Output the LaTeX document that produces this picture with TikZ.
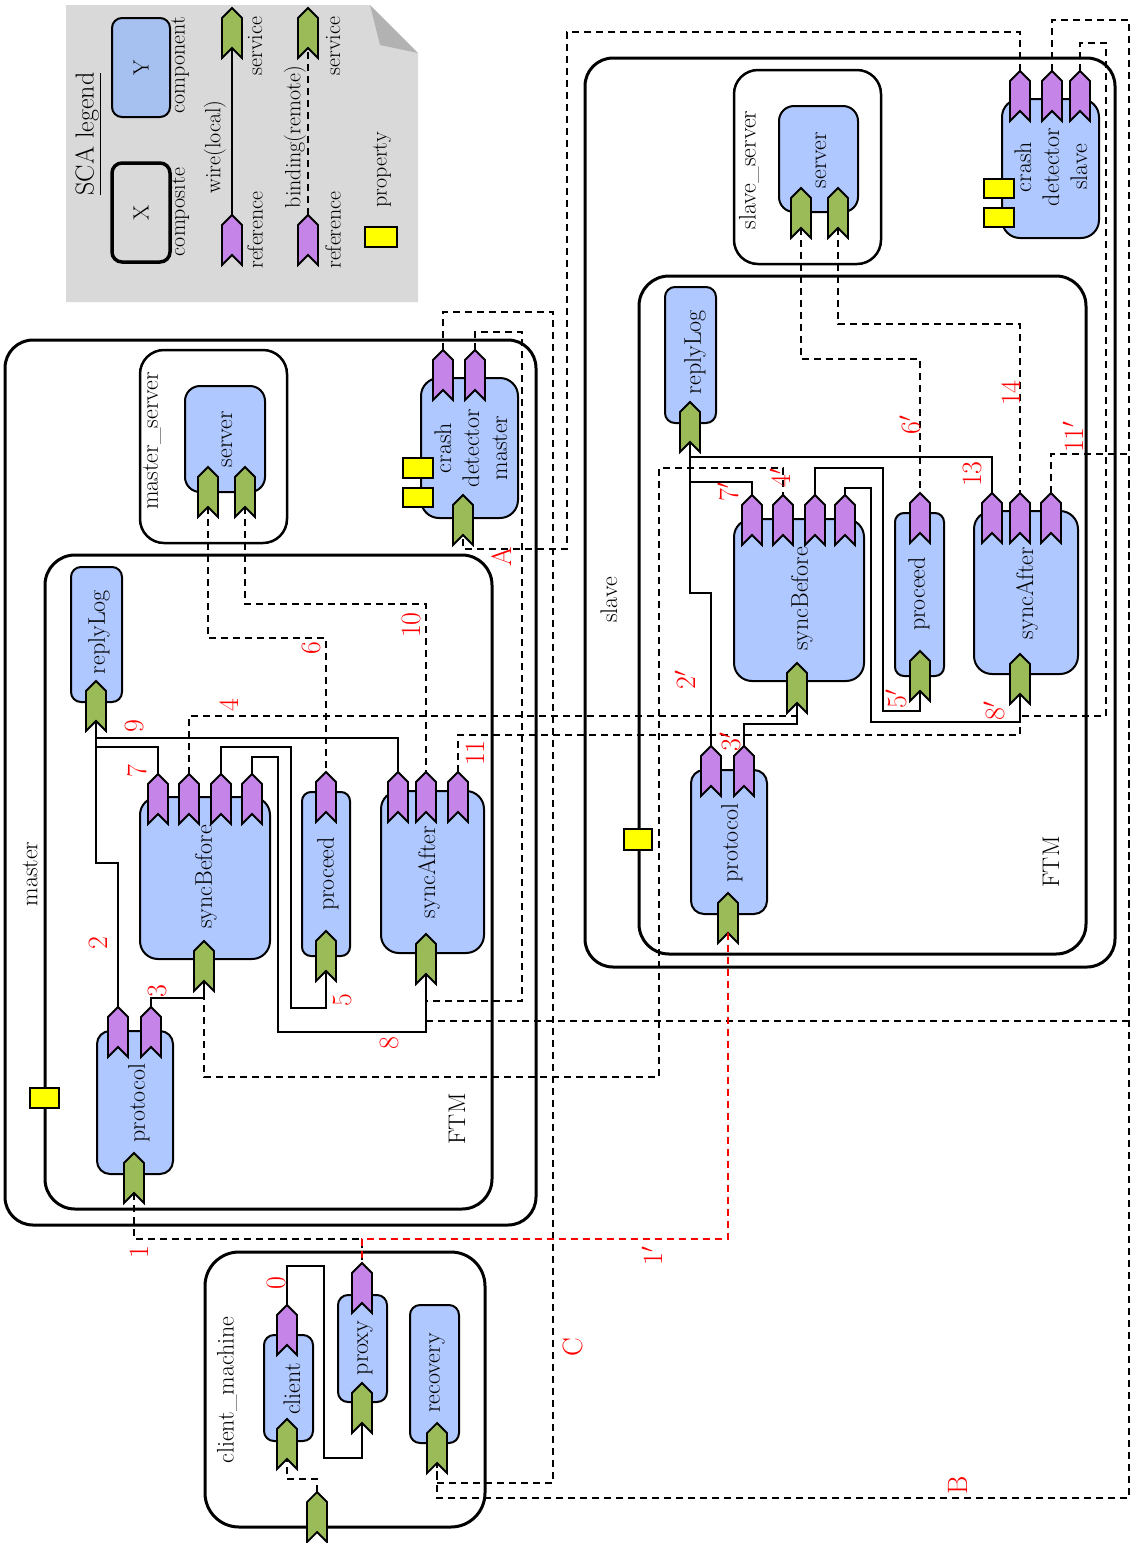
\documentclass[tikz,border=0pt]{standalone}
\definecolor{compblue}{RGB}{175,200,255}
\definecolor{legblue}{RGB}{166,192,240}
\definecolor{refpurple}{RGB}{196,132,232}
\definecolor{svcgreen}{RGB}{155,187,89}
\definecolor{leggray}{RGB}{217,217,217}
\definecolor{foldgray}{RGB}{178,178,178}
\definecolor{propyellow}{RGB}{255,255,0}
\tikzset{
  composite/.style={draw, line width=3pt, rounded corners=28pt, inner sep=0pt, outer sep=0pt},
  comp/.style={draw, line width=2pt, fill=compblue, rounded corners=12pt, inner sep=0pt, outer sep=0pt},
  prop/.style={draw, line width=1.8pt, fill=propyellow, inner sep=0pt, outer sep=0pt},
  wire/.style={line width=1.8pt},
  bind/.style={line width=1.8pt, dash pattern=on 7pt off 5pt},
  redbind/.style={bind, draw=red},
  lab/.style={rotate=90, font=\fontsize{24}{28}\selectfont, inner sep=0pt},
  num/.style={rotate=90, text=red, font=\fontsize{28}{30}\selectfont, inner sep=0pt},
  leg/.style={rotate=90, font=\fontsize{22}{26}\selectfont, inner sep=0pt},
  port/.style={line width=1.8pt, line join=miter},
  refport/.pic={\draw[port,fill=refpurple] (0,0) -- (10,10) -- (10,50) -- (0,40) -- (-10,50) -- (-10,10) -- cycle;
    \coordinate (-t) at (0,0); \coordinate (-n) at (0,40);},
  svcport/.pic={\draw[port,fill=svcgreen] (0,0) -- (10,10) -- (10,50) -- (0,40) -- (-10,50) -- (-10,10) -- cycle;
    \coordinate (-t) at (0,0); \coordinate (-n) at (0,40);},
}
\newcommand\boxat[6]{\node[#1,minimum width={(#5)-(#3)},minimum height={(#6)-(#4)}] (#2) at ({((#3)+(#5))/2},{((#4)+(#6))/2}) {};}
\begin{document}
\begin{tikzpicture}[x=1pt,y=-1pt]
\useasboundingbox (0,0) rectangle (1134,1543);
% ---------------- legend
\fill[leggray] (66,5) -- (370,5) -- (418,53) -- (418,302) -- (66,302) -- cycle;
\fill[foldgray] (370,5) -- (418,53) -- (380,45) -- cycle;
\boxat{draw,line width=3.5pt,rounded corners=10pt,inner sep=0pt}{legx}{112}{163}{170}{262}
\boxat{comp,fill=legblue,rounded corners=10pt}{legy}{112}{18}{170}{117}
\node[leg] (legxt) at (legx) {X};
\node[leg] (legyt) at (legy) {Y};
\node[leg,font=\fontsize{26}{30}\selectfont] (legtitle) at (88,134) {\underline{SCA legend}};
\node[leg] (legcomposite) at (180,212) {composite};
\node[leg] (legcomponent) at (180,65) {component};
\pic (lgr1) at (232,215) {refport};
\pic (lgs1) at (232,8) {svcport};
\draw[wire] (lgr1-t) -- (lgs1-n);
\pic (lgr2) at (308,215) {refport};
\pic (lgs2) at (308,8) {svcport};
\draw[bind] (lgr2-t) -- (lgs2-n);
\node[leg] (legwire) at (215,147) {wire(local)};
\node[leg] (legbind) at (295,137) {binding(remote)};
\node[leg] (legref1) at (255,230) {reference};
\node[leg] (legsvc1) at (255,46) {service};
\node[leg] (legref2) at (333,230) {reference};
\node[leg] (legsvc2) at (333,46) {service};
\boxat{prop}{legp}{365}{227}{397}{247}
\node[leg] (legprop) at (382,170) {property};
% ---------------- composites
\boxat{composite}{mouter}{5}{340}{536}{1225}
\boxat{composite,line width=2.5pt,rounded corners=24pt}{mserv}{140}{350}{287}{543}
\boxat{composite,rounded corners=30pt}{mftm}{45}{555}{492}{1209}
\boxat{composite}{souter}{585}{58}{1115}{967}
\boxat{composite,line width=2.5pt,rounded corners=24pt}{sserv}{734}{70}{881}{264}
\boxat{composite,rounded corners=30pt}{sftm}{639}{276}{1086}{954}
\boxat{composite,rounded corners=34pt}{cm}{205}{1252}{485}{1527}
% ---------------- components master
\boxat{comp,rounded corners=15pt}{mserver}{185}{386}{265}{492}
\boxat{comp,rounded corners=18pt}{mcd}{421}{378}{518}{518}
\boxat{comp,rounded corners=10pt}{mrl}{71}{567}{122}{702}
\boxat{comp,rounded corners=18pt}{msb}{140}{797}{270}{959}
\boxat{comp,rounded corners=9pt}{mpc}{302}{792}{350}{956}
\boxat{comp,rounded corners=18pt}{msa}{381}{791}{484}{953}
\boxat{comp,rounded corners=13pt}{mpr}{97}{1031}{173}{1174}
% ---------------- components slave
\boxat{comp,rounded corners=15pt}{sserver}{779}{106}{858}{212}
\boxat{comp,rounded corners=18pt}{scd}{1002}{99}{1099}{238}
\boxat{comp,rounded corners=10pt}{srl}{665}{287}{716}{423}
\boxat{comp,rounded corners=18pt}{ssb}{734}{519}{864}{681}
\boxat{comp,rounded corners=9pt}{spc}{895}{513}{944}{676}
\boxat{comp,rounded corners=18pt}{ssa}{974}{511}{1078}{674}
\boxat{comp,rounded corners=13pt}{spr}{691}{770}{767}{914}
% ---------------- components client
\boxat{comp,rounded corners=10pt}{ccl}{264}{1335}{313}{1441}
\boxat{comp,rounded corners=10pt}{cpx}{338}{1295}{387}{1402}
\boxat{comp,rounded corners=10pt}{crc}{410}{1305}{459}{1443}
% ---------------- properties
\boxat{prop}{mprop}{30}{1088}{59}{1108}
\boxat{prop}{mcdp1}{403}{458}{433}{478}
\boxat{prop}{mcdp2}{403}{488}{433}{507}
\boxat{prop}{sprop}{624}{829}{652}{850}
\boxat{prop}{scdp1}{984}{179}{1014}{198}
\boxat{prop}{scdp2}{984}{208}{1014}{227}
% ---------------- ports master
\pic (msv1) at (208,467) {svcport};
\pic (msv2) at (245,467) {svcport};
\pic (mcdr1) at (443,350) {refport};
\pic (mcdr2) at (475,350) {refport};
\pic (mcds) at (463,495) {svcport};
\pic (mrls) at (96,681) {svcport};
\pic (msb1) at (158,774) {refport};
\pic (msb2) at (189,774) {refport};
\pic (msb3) at (221,774) {refport};
\pic (msb4) at (252,774) {refport};
\pic (msbs) at (204,941) {svcport};
\pic (mpcr) at (326,772) {refport};
\pic (mpcs) at (326,931) {svcport};
\pic (msa1) at (398,772) {refport};
\pic (msa2) at (426,772) {refport};
\pic (msa3) at (458,772) {refport};
\pic (msas) at (426,934) {svcport};
\pic (mpr1) at (118,1007) {refport};
\pic (mpr2) at (151,1007) {refport};
\pic (mprs) at (134,1153) {svcport};
% ---------------- ports slave
\pic (ssv1) at (801,188) {svcport};
\pic (ssv2) at (838,188) {svcport};
\pic (scdr1) at (1020,71) {refport};
\pic (scdr2) at (1052,71) {refport};
\pic (scdr3) at (1080,71) {refport};
\pic (srls) at (690,402) {svcport};
\pic (ssb1) at (752,495) {refport};
\pic (ssb2) at (783,495) {refport};
\pic (ssb3) at (815,495) {refport};
\pic (ssb4) at (845,495) {refport};
\pic (ssbs) at (797,663) {svcport};
\pic (spcr) at (920,493) {refport};
\pic (spcs) at (920,651) {svcport};
\pic (ssa1) at (992,493) {refport};
\pic (ssa2) at (1020,493) {refport};
\pic (ssa3) at (1051,493) {refport};
\pic (ssas) at (1020,654) {svcport};
\pic (spr1) at (711,746) {refport};
\pic (spr2) at (744,746) {refport};
\pic (sprs) at (728,893) {svcport};
% ---------------- ports client
\pic (cclr) at (287,1305) {refport};
\pic (ccls) at (287,1419) {svcport};
\pic (cpxr) at (362,1263) {refport};
\pic (cpxs) at (362,1383) {svcport};
\pic (crcs) at (437,1423) {svcport};
\pic (cms) at (317,1492) {svcport};
% ---------------- wires master
\draw[wire] (mrls-n) -- (96,863) -| (mpr1-t);
\draw[wire] (mrls-n) |- (398,738) -- (msa1-t);
\draw[wire] (mrls-n) |- (158,747) -- (msb1-t);
\draw[wire] (msb3-t) -- (221,747) -| (291,1008) -| (mpcs-n);
\draw[wire] (msb4-t) -- (252,757) -| (278,1032) -| (msas-n);
\draw[wire] (mpr2-t) -- (151,998) -| (msbs-n);
% ---------------- wires slave
\draw[wire] (srls-n) |- (992,457) -- (ssa1-t);
\draw[wire] (srls-n) |- (752,482) -- (ssb1-t);
\draw[wire] (srls-n) -- (690,593) -| (spr1-t);
\draw[wire] (ssb3-t) -- (815,468) -| (883,711) -| (spcs-n);
\draw[wire] (ssb4-t) -- (845,488) -| (871,722) -| (ssas-n);
\draw[wire] (spr2-t) -- (744,724) -| (ssbs-n);
% ---------------- wires client
\draw[wire] (cclr-t) -- (287,1266) -| (324,1458) -| (cpxs-n);
% ---------------- bindings
\draw[bind] (msv1-n) -- (208,638) -| (mpcr-t);
\draw[bind] (msv2-n) -- (245,604) -| (msa2-t);
\draw[bind] (msb2-t) -- (189,716) -| (ssbs-n);
\draw[bind] (msa3-t) -- (458,735) -| (ssas-n);
\draw[bind] (msbs-n) -- (204,1077) -| (659,468) -| (ssb2-t);
\draw[bind] (mcdr2-t) -- (475,332) -| (522,1001) -| (msas-n);
\draw[bind] (mcdr1-t) -- (443,312) -| (553,1483) -| (crcs-n);
\draw[bind] (scdr2-t) -- (1052,20) -| (1129,1498) -| (crcs-n);
\draw[bind] (ssa3-t) -- (1051,454) -| (1129,1021) -| (msas-n);
\draw[bind] (scdr1-t) -- (1020,32) -| (567,549) -| (mcds-n);
\draw[bind] (scdr3-t) -- (1080,43) -| (1106,716) -| (ssas-n);
\draw[bind] (ssv1-n) -- (801,359) -| (spcr-t);
\draw[bind] (ssv2-n) -- (838,324) -| (ssa2-t);
\draw[bind] (mprs-n) -- (134,1239) -| (cpxr-t);
\draw[redbind] (sprs-n) -- (728,1239) -| (cpxr-t);
\draw[bind] (cms-t) -- (317,1479) -| (ccls-n);
% ---------------- labels master
\node[lab] (tmaster) at (30,874) {master};
\node[lab] (tmserv) at (152,441) {master\_server};
\node[lab] (tmftm) at (457,1119) {FTM};
\node[lab] (tmserver) at (227,439) {server};
\node[lab,align=center] (tmcd) at (471,448) {crash\\detector\\master};
\node[lab] (tmrl) at (99,632) {replyLog};
\node[lab] (tmsb) at (206,877) {syncBefore};
\node[lab] (tmpc) at (328,874) {proceed};
\node[lab] (tmsa) at (429,872) {syncAfter};
\node[lab] (tmpr) at (139,1103) {protocol};
% ---------------- labels slave
\node[lab] (tslave) at (609,600) {slave};
\node[lab] (tsserv) at (749,170) {slave\_server};
\node[lab] (tsftm) at (1051,862) {FTM};
\node[lab] (tsserver) at (821,160) {server};
\node[lab,align=center] (tscd) at (1051,167) {crash\\detector\\slave};
\node[lab] (tsrl) at (695,352) {replyLog};
\node[lab] (tssb) at (802,599) {syncBefore};
\node[lab] (tspc) at (919,594) {proceed};
\node[lab] (tssa) at (1027,593) {syncAfter};
\node[lab] (tspr) at (732,843) {protocol};
% ---------------- labels client
\node[lab] (tcm) at (227,1390) {client\_machine};
\node[lab] (tccl) at (292,1389) {client};
\node[lab] (tcpx) at (365,1348) {proxy};
\node[lab] (tcrc) at (437,1373) {recovery};
% ---------------- red numbers
\node[num] (n0) at (276,1283) {0};
\node[num] (n1) at (139,1252) {1};
\node[num] (n1p) at (652,1256) {1$'$};
\node[num] (n2) at (98,943) {2};
\node[num] (n3) at (157,991) {3};
\node[num] (n4) at (229,705) {4};
\node[num] (n5) at (342,1000) {5};
\node[num] (n6) at (311,648) {6};
\node[num] (n7) at (137,771) {7};
\node[num] (n8) at (389,1043) {8};
\node[num] (n9) at (134,726) {9};
\node[num] (n10) at (411,625) {10};
\node[num] (n11) at (475,753) {11};
\node[num] (n2p) at (685,680) {2$'$};
\node[num] (n3p) at (730,742) {3$'$};
\node[num] (n4p) at (780,478) {4$'$};
\node[num] (n5p) at (896,699) {5$'$};
\node[num] (n6p) at (910,425) {6$'$};
\node[num] (n7p) at (728,492) {7$'$};
\node[num] (n8p) at (994,711) {8$'$};
\node[num] (n11p) at (1073,437) {11$'$};
\node[num] (n13) at (972,474) {13};
\node[num] (n14) at (1011,393) {14};
\node[num] (nA) at (502,557) {A};
\node[num] (nB) at (958,1485) {B};
\node[num] (nC) at (573,1347) {C};
\end{tikzpicture}
\end{document}
